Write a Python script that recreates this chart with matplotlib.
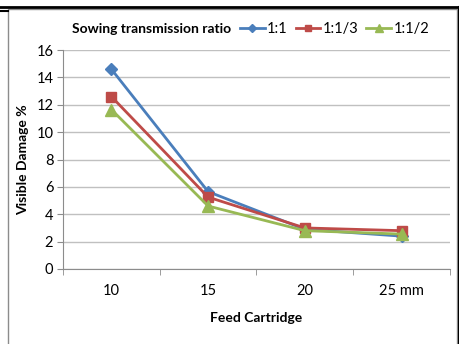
import matplotlib
matplotlib.use("Agg")
import matplotlib.pyplot as plt
from matplotlib.lines import Line2D
from matplotlib.patches import Rectangle

# Data
categories = ["10", "15", "20", "25 mm"]
ratio_1_1 = [14.6, 5.65, 2.9, 2.4]
ratio_1_13 = [12.6, 5.25, 3.0, 2.8]
ratio_1_12 = [11.65, 4.6, 2.8, 2.55]
series_names = ["1:1", "1:1/3", "1:1/2"]
yticks = [0, 2, 4, 6, 8, 10, 12, 14, 16]


def main():
    plt.rcParams['font.family'] = ['Lato', 'DejaVu Sans']
    W, H = 460, 344
    fig = plt.figure(figsize=(W / 100, H / 100), dpi=100)

    # outer frame bits
    fig.patches.append(Rectangle((8 / W, -0.05), 449 / W, 1.05 - 9 / H,
                                 transform=fig.transFigure, fill=False,
                                 edgecolor='#8c8c8c', lw=1.0))
    fig.add_artist(Line2D([0, 1], [1 - 7 / H, 1 - 7 / H],
                          transform=fig.transFigure, color='black', lw=2))
    fig.add_artist(Line2D([459 / W, 459 / W], [0, 1 - 7 / H],
                          transform=fig.transFigure, color='black', lw=1.5))
    fig.add_artist(Line2D([0, 8 / W], [1 - 11 / H, 1 - 11 / H],
                          transform=fig.transFigure, color='black', lw=1.5))

    ax = fig.add_axes([63 / W, 1 - 269 / H, 387 / W, 219 / H])
    x = list(range(len(categories)))

    ax.plot(x, ratio_1_1, color='#4A7EBB', lw=2, marker='D', ms=6,
            label=series_names[0])
    ax.plot(x, ratio_1_13, color='#BE4B48', lw=2, marker='s', ms=7,
            label=series_names[1])
    ax.plot(x, ratio_1_12, color='#98B954', lw=2, marker='^', ms=8,
            label=series_names[2])

    ax.set_xlim(-0.5, len(categories) - 0.5)
    ax.set_ylim(0, 16)
    ax.set_yticks(yticks)
    ax.yaxis.grid(True, color='#c0c0c0', lw=1)
    ax.set_axisbelow(True)

    ax.set_xticks(x)
    ax.set_xticklabels(categories, fontsize=10.5)
    ax.set_xticks([i - 0.5 for i in range(len(categories) + 1)], minor=True)
    ax.tick_params(axis='x', which='major', length=0, pad=11)
    ax.tick_params(axis='x', which='minor', length=4, color='#8c8c8c')
    ax.tick_params(axis='y', length=4, color='#8c8c8c', labelsize=10.5, pad=3)

    for s in ['top', 'right']:
        ax.spines[s].set_visible(False)
    for s in ['left', 'bottom']:
        ax.spines[s].set_color('#8c8c8c')

    ax.set_xlabel("Feed Cartridge", fontsize=10, fontweight='bold', labelpad=10)
    ax.set_ylabel("Visible Damage %", fontsize=10, fontweight='bold', labelpad=5)

    fig.text(72 / W, 1 - 29 / H, "Sowing transmission ratio", fontsize=10,
             fontweight='bold', va='center', ha='left')
    fig.legend(loc='center left', bbox_to_anchor=(240 / W, 1 - 29 / H),
               ncol=3, frameon=False, fontsize=10.5, handlelength=1.7,
               handletextpad=0.15, columnspacing=0.55, borderaxespad=0,
               borderpad=0, markerscale=0.7)

    fig.savefig("out.png", dpi=100)


if __name__ == "__main__":
    main()
